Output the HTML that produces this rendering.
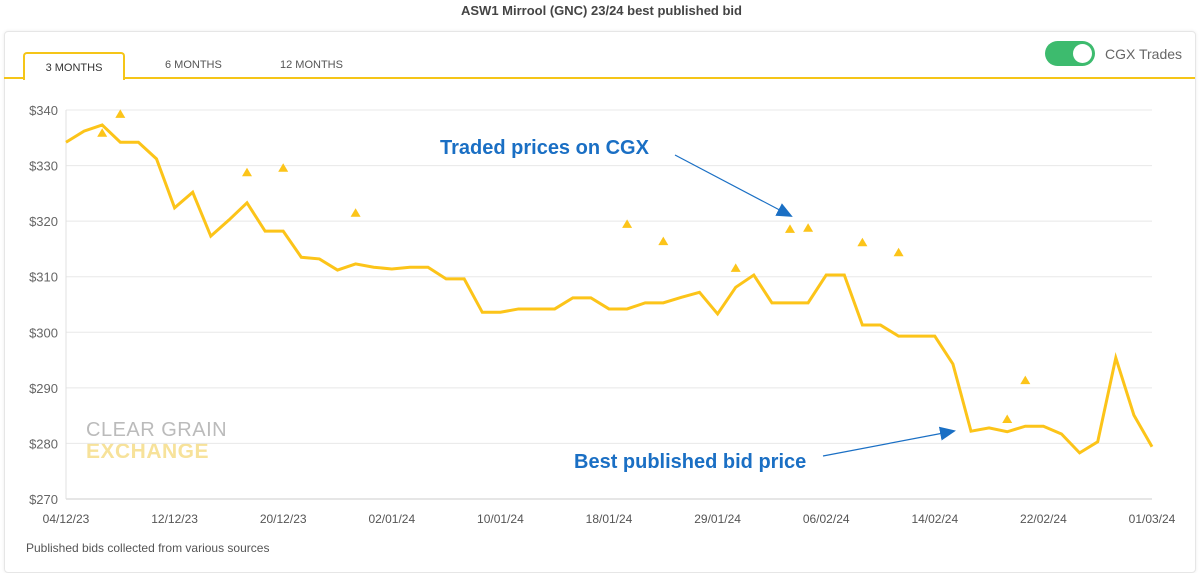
<!DOCTYPE html>
<html><head><meta charset="utf-8"><style>
body{margin:0;width:1203px;height:565px;background:#fff;font-family:"Liberation Sans",sans-serif;overflow:hidden;position:relative}
.t{position:absolute;white-space:nowrap}
</style></head><body>
<div class="t" style="left:0;width:1203px;text-align:center;top:3px;font-size:13px;font-weight:bold;color:#444">ASW1 Mirrool (GNC) 23/24 best published bid</div>
<div style="position:absolute;left:4px;top:31px;width:1190px;height:540px;border:1px solid #e6e6e6;border-radius:4px;box-shadow:0 0 3px rgba(0,0,0,0.08)"></div>
<div style="position:absolute;left:4px;top:77px;width:1191px;height:2px;background:#f5c518"></div>
<div class="t" style="left:23px;top:52px;width:98px;height:26px;border:2px solid #f5c518;border-bottom:none;border-radius:4px 4px 0 0;background:#fff;font-size:11px;color:#333;text-align:center;line-height:28px">3 MONTHS</div>
<div class="t" style="left:165px;top:59px;font-size:11px;color:#555">6 MONTHS</div>
<div class="t" style="left:280px;top:59px;font-size:11px;color:#555">12 MONTHS</div>
<div style="position:absolute;left:1045px;top:41px;width:50px;height:25px;border-radius:13px;background:#3dbb6e"><div style="position:absolute;right:3px;top:3px;width:19px;height:19px;border-radius:50%;background:#fff"></div></div>
<div class="t" style="left:1105px;top:46px;font-size:14px;color:#666">CGX Trades</div>
<div class="t" style="left:26px;top:541px;font-size:12px;color:#555">Published bids collected from various sources</div>
<div class="t" style="left:86px;top:419px;font-size:20px;color:#bbb;letter-spacing:0.5px;line-height:22px">CLEAR GRAIN</div>
<div class="t" style="left:86px;top:440px;font-size:21px;font-weight:bold;color:#f7e29a;letter-spacing:0.5px;line-height:24px">EXCHANGE</div>
<svg id="chart" width="1203" height="565" style="position:absolute;left:0;top:0">
<defs><marker id="ah2" markerWidth="16" markerHeight="14" refX="14" refY="7" orient="auto" markerUnits="userSpaceOnUse"><path d="M0,0L16,7L0,14z" fill="#1a6fc4"/></marker></defs>
</svg>
<div class="t" style="left:440px;top:137px;font-size:20px;font-weight:bold;color:#1a6fc4">Traded prices on CGX</div>
<div class="t" style="left:574px;top:451px;font-size:20px;font-weight:bold;color:#1a6fc4">Best published bid price</div>
<script>
const yTicks=[270,280,290,300,310,320,330,340];
const xLabels=["04/12/23","12/12/23","20/12/23","02/01/24","10/01/24","18/01/24","29/01/24","06/02/24","14/02/24","22/02/24","01/03/24"];
const xLabelIdx=[0,6,12,18,24,30,36,42,48,54,60];
const bidValues=[334.2,336.2,337.3,334.2,334.2,331.2,322.4,325.2,317.3,320.2,323.3,318.2,318.2,313.5,313.2,311.2,312.3,311.7,311.4,311.7,311.7,309.6,309.6,303.6,303.6,304.2,304.2,304.2,306.2,306.2,304.2,304.2,305.3,305.3,306.3,307.2,303.3,308.1,310.3,305.3,305.3,305.3,310.3,310.3,301.3,301.3,299.3,299.3,299.3,294.3,282.2,282.8,282.1,283.1,283.1,281.7,278.3,280.3,295.4,285.1,279.4];
const tradeIdx=[2,3,10,12,16,31,33,37,40,41,44,46,52,53];
const tradeValues=[335.9,339.3,328.8,329.6,321.5,319.5,316.4,311.6,318.6,318.8,316.2,314.4,284.4,291.4];
const svg=document.getElementById('chart');const NS='http://www.w3.org/2000/svg';
const X0=66,X1=1152,Y0=499,Y1=110,VMIN=270,VMAX=340;
const xs=i=>X0+(X1-X0)*i/(bidValues.length-1);
const ys=v=>Y0-(v-VMIN)/(VMAX-VMIN)*(Y0-Y1);
function mk(tag,a){const e=document.createElementNS(NS,tag);for(const k in a)e.setAttribute(k,a[k]);svg.appendChild(e);return e;}
yTicks.forEach(v=>{const l=mk('line',{x1:X0,x2:X1,y1:ys(v),y2:ys(v),stroke:v===270?'#ccc':'#e8e8e8','stroke-width':1});


const t=mk('text',{x:X0-8,y:ys(v)+5,'text-anchor':'end','font-size':13,fill:'#666','font-family':'Liberation Sans'});t.textContent='$'+v;

});
mk('line',{x1:X0,x2:X0,y1:Y1,y2:Y0,stroke:'#e0e0e0'});
xLabels.forEach((s,k)=>{const t=mk('text',{x:xs(xLabelIdx[k]),y:523,'text-anchor':'middle','font-size':12,fill:'#555','font-family':'Liberation Sans'});t.textContent=s;

});
const p=mk('polyline',{points:bidValues.map((v,i)=>xs(i)+','+ys(v)).join(' '),fill:'none',stroke:'#fcc419','stroke-width':3,'stroke-linejoin':'miter'});


tradeValues.forEach((v,k)=>{const x=xs(tradeIdx[k]),y=ys(v);const m=mk('path',{d:`M${x-5},${y+4}L${x+5},${y+4}L${x},${y-4.5}z`,fill:'#fcc419'});

});
const a1=mk('line',{x1:675,y1:155,x2:791,y2:216,stroke:'#1a6fc4','stroke-width':1.2,'marker-end':'url(#ah2)'});


const a2=mk('line',{x1:823,y1:456,x2:954,y2:431,stroke:'#1a6fc4','stroke-width':1.2,'marker-end':'url(#ah2)'});


</script>
</body></html>
